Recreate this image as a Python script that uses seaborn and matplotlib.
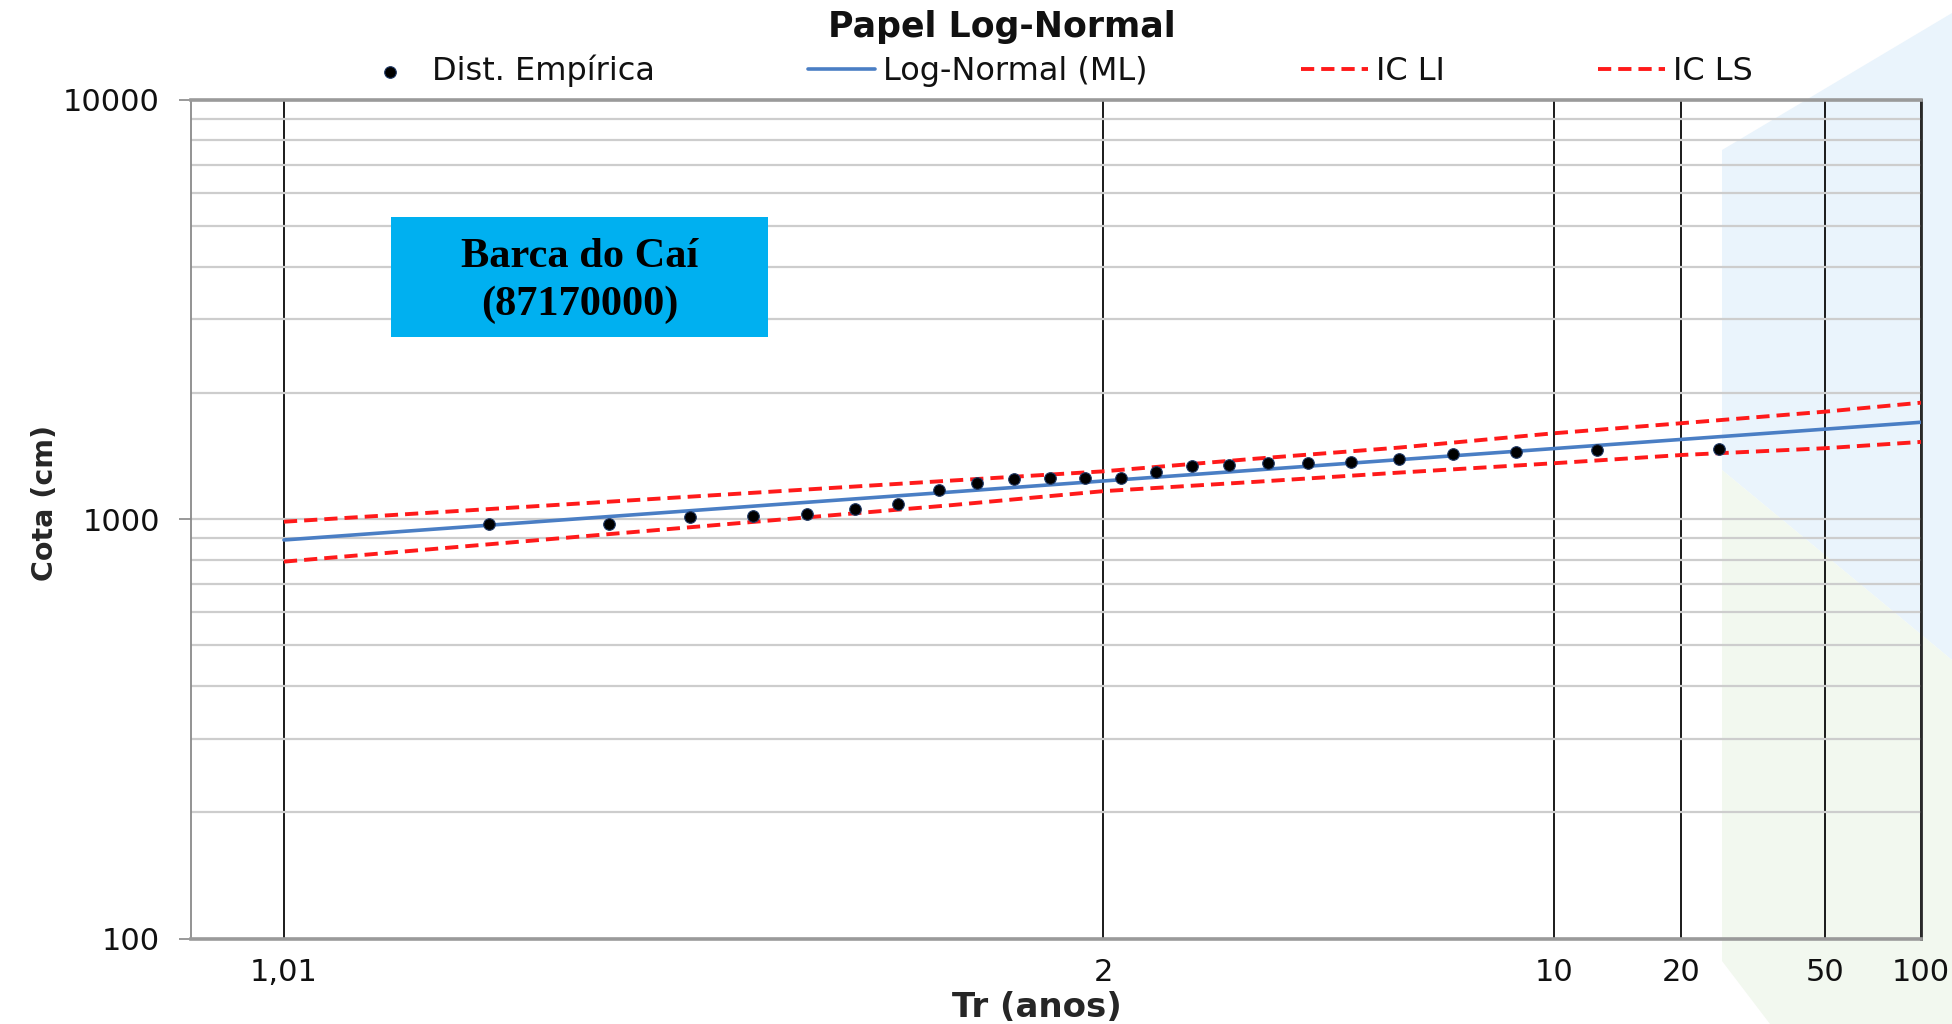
import math
import numpy as np
import pandas as pd
import matplotlib
matplotlib.use("Agg")
import matplotlib.pyplot as plt
import seaborn as sns
from matplotlib.patches import Polygon, Rectangle
from matplotlib.ticker import FixedLocator, NullLocator, LogLocator, NullFormatter
from statistics import NormalDist

# ---------------- data ----------------
emp_tr = [1.042, 1.087, 1.136, 1.190, 1.25, 1.316, 1.389, 1.471, 1.563, 1.667,
          1.786, 1.923, 2.083, 2.273, 2.5, 2.778, 3.125, 3.571, 4.167, 5.0,
          6.25, 8.333, 12.5, 25.0]
emp_cota = [974, 974, 1010, 1018, 1029, 1056, 1087, 1174, 1222, 1249,
            1254, 1256, 1256, 1296, 1337, 1345, 1364, 1364, 1371, 1392,
            1433, 1449, 1465, 1472]

fit_tr = [1.01, 1.25, 1.5, 2, 3, 5, 10, 20, 50, 100]
lognormal_ml = [892, 1097, 1161, 1233, 1309, 1386, 1473, 1549, 1639, 1702]
ic_ls = [986, 1177, 1236, 1300, 1393, 1481, 1602, 1693, 1804, 1895]
ic_li = [792, 1010, 1080, 1166, 1227, 1291, 1359, 1422, 1476, 1528]

x_ticks = [1.01, 2, 10, 20, 50, 100]
x_tick_labels = ["1,01", "2", "10", "20", "50", "100"]
y_ticks = [100, 1000, 10000]
y_tick_labels = ["100", "1000", "10000"]

title = "Papel Log-Normal"
station = "Barca do Caí\n(87170000)"

# ---------------- style ----------------
sns.set_style("white")
plt.rcParams["font.family"] = ["DejaVu Sans"]

W, H = 1952, 1024
fig = plt.figure(figsize=(W / 100, H / 100), dpi=100)
fig.patch.set_facecolor("white")


def fx(px):
    return px / W


def fy(py):
    return 1 - py / H


# faint slide decoration in the background (right side)
blue_poly = Polygon([(fx(1722), fy(150)), (fx(1952), fy(13)), (fx(1952), fy(660)),
                     (fx(1722), fy(470))], closed=True, transform=fig.transFigure,
                    facecolor="#EAF4FC", edgecolor="none", zorder=-10)
green_poly = Polygon([(fx(1722), fy(470)), (fx(1952), fy(660)), (fx(1952), fy(1024)),
                      (fx(1770), fy(1024)), (fx(1722), fy(961))], closed=True,
                     transform=fig.transFigure, facecolor="#F2F8EF",
                     edgecolor="none", zorder=-10)
fig.patches.extend([blue_poly, green_poly])

ax = fig.add_axes([fx(190.5), fy(938.7), (1921 - 190.5) / W, (938.7 - 99.6) / H])
ax.set_facecolor("none")

nd = NormalDist()


def _f(t):
    if not math.isfinite(t):
        return float("nan")
    p = 1.0 - 1.0 / t if t > 0 else 1e-12
    p = min(max(p, 1e-12), 1 - 1e-12)
    return nd.inv_cdf(p)


def _i(z):
    if not math.isfinite(z):
        return float("nan")
    return 1.0 / max(1.0 - nd.cdf(z), 1e-12)


_fwd = np.vectorize(_f, otypes=[float])
_inv = np.vectorize(_i, otypes=[float])


def forward(t):
    return _fwd(np.asarray(t, dtype=float))


def inverse(z):
    return _inv(np.asarray(z, dtype=float))


ax.set_xscale("function", functions=(forward, inverse))
ax.set_yscale("log")

df_emp = pd.DataFrame({"Tr": emp_tr, "Cota": emp_cota})
df_fit = pd.DataFrame({"Tr": fit_tr, "ML": lognormal_ml, "LI": ic_li, "LS": ic_ls})

sns.lineplot(data=df_fit, x="Tr", y="LI", ax=ax, color="#FF1A1A", lw=2.8,
             estimator=None, sort=False, zorder=4, label="IC LI")
sns.lineplot(data=df_fit, x="Tr", y="LS", ax=ax, color="#FF1A1A", lw=2.8,
             estimator=None, sort=False, zorder=4, label="IC LS")
sns.lineplot(data=df_fit, x="Tr", y="ML", ax=ax, color="#4A7EC4", lw=2.6,
             estimator=None, sort=False, zorder=5, label="Log-Normal (ML)")
sns.scatterplot(data=df_emp, x="Tr", y="Cota", ax=ax, color="black", s=70,
                edgecolor="#1F3864", linewidth=0.8, zorder=6, label="Dist. Empírica")

for ln in ax.lines[:2]:
    ln.set_dashes((3.4, 1.8))

ax.set_xlim(1.00474, 100)
ax.set_ylim(100, 10000)

# ticks
ax.xaxis.set_major_locator(FixedLocator(x_ticks))
ax.xaxis.set_minor_locator(NullLocator())
ax.set_xticklabels(x_tick_labels)
ax.yaxis.set_major_locator(FixedLocator(y_ticks))
ax.set_yticklabels(y_tick_labels)
ax.yaxis.set_minor_locator(LogLocator(base=10, subs=np.arange(2, 10)))
ax.yaxis.set_minor_formatter(NullFormatter())

ax.tick_params(axis="x", which="both", length=0, pad=14, labelsize=22, labelcolor="#111111")
ax.tick_params(axis="y", which="major", length=9, width=1.2, color="#888888",
               pad=13, labelsize=22, labelcolor="#111111", left=True)
ax.tick_params(axis="y", which="minor", length=0)

# grid
ax.yaxis.grid(True, which="both", color="#CDCDCD", lw=1.6, zorder=0)
ax.xaxis.grid(True, which="major", color="#1A1A1A", lw=1.4, zorder=1)
ax.set_axisbelow(True)

for s in ["top", "bottom"]:
    ax.spines[s].set_color("#9A9A9A")
    ax.spines[s].set_linewidth(2.6)
ax.spines["left"].set_color("#8A8A8A")
ax.spines["left"].set_linewidth(1.3)
ax.spines["right"].set_color("#2A2A2A")
ax.spines["right"].set_linewidth(2.0)

ax.set_xlabel("Tr (anos)", fontsize=24.5, fontweight="bold", labelpad=3)
ax.xaxis.label.set_x(0.489)
ax.set_ylabel("Cota (cm)", fontsize=20.5, fontweight="bold", labelpad=3)
ax.yaxis.label.set_y(0.519)

# title
fig.text(fx(1002), fy(27), title, ha="center", va="center", fontsize=25,
         fontweight="bold", color="#111111")

# legend
handles, labels = ax.get_legend_handles_labels()
order = [labels.index(l) for l in ["Dist. Empírica", "Log-Normal (ML)", "IC LI", "IC LS"]]
leg = ax.legend([handles[i] for i in order], [labels[i] for i in order],
                loc="center", bbox_to_anchor=(fx(1055), fy(71)),
                bbox_transform=fig.transFigure, ncol=4, frameon=False,
                fontsize=23, handlelength=2.1, handletextpad=0.25,
                columnspacing=4.8, borderpad=0)
for t in leg.get_texts():
    t.set_color("#111111")

# station box
fig.patches.append(Rectangle((fx(391), fy(337)), (768 - 391) / W, (337 - 217) / H,
                             transform=fig.transFigure, facecolor="#00B0F0",
                             edgecolor="none", zorder=5))
fig.text(fx(579.5), fy(281), station, ha="center", va="center",
         fontsize=30.5, fontweight="bold", family=["Liberation Serif", "DejaVu Serif"],
         color="black", linespacing=1.3, zorder=6)

fig.savefig("out.png", dpi=100)
